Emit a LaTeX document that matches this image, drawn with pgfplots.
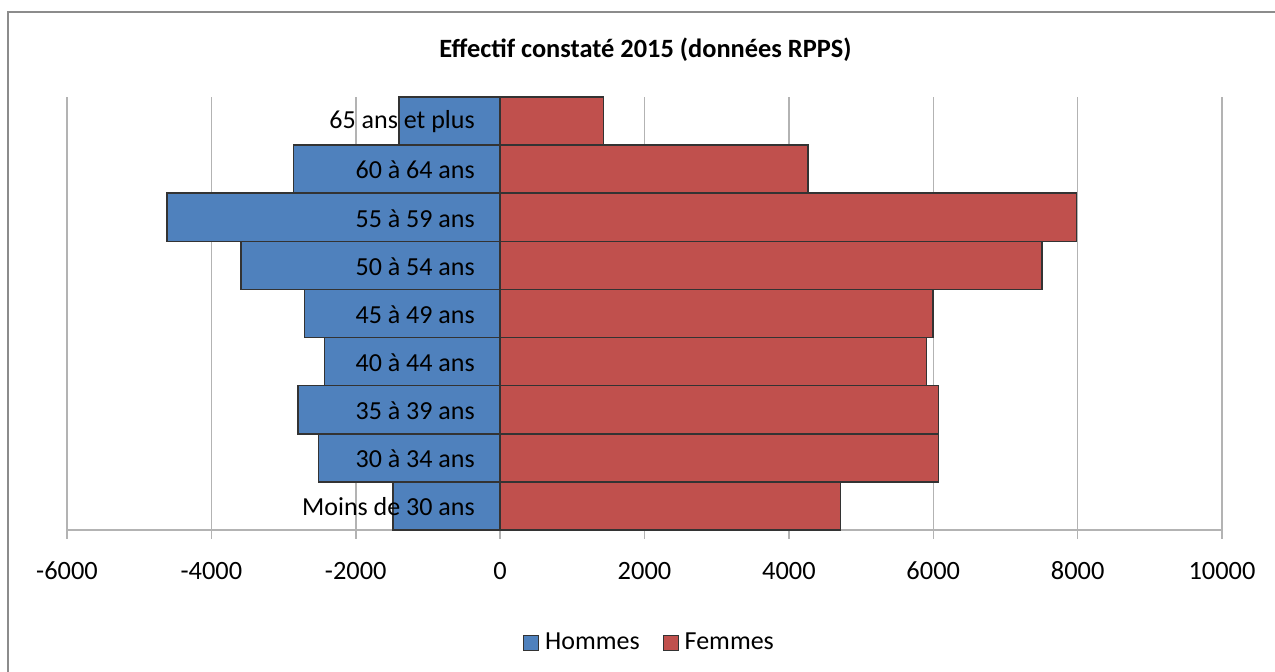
\documentclass[border=0pt]{standalone}
\usepackage{pgfplots}
\pgfplotsset{compat=1.18}
\usepackage{fontspec}
\setmainfont{Carlito}
\definecolor{hblue}{HTML}{4F81BD}
\definecolor{fred}{HTML}{C0504D}
\definecolor{gridc}{HTML}{B3B3B3}
\definecolor{framec}{HTML}{8C8C8C}
\begin{document}
\begin{tikzpicture}
\useasboundingbox (0,0) rectangle (637.5pt,336pt);
\draw[framec, line width=1pt] (4pt,-5pt) -- (4pt,330pt) -- (645pt,330pt);
\node[font=\bfseries\fontsize{13.2}{16}\selectfont] at (322.75pt,311pt) {Effectif constaté 2015 (données RPPS)};
\begin{axis}[
  at={(33.5pt,71pt)}, anchor=south west,
  scale only axis,
  width=577.5pt, height=216.5pt,
  xmin=-6000, xmax=10000,
  ymin=-0.5, ymax=8.5,
  xtick={-6000,-4000,...,10000},
  scaled x ticks=false,
  /pgf/number format/assume math mode=true,
  /pgf/number format/1000 sep={},
  xmajorgrids,
  grid style={gridc, line width=0.75pt},
  axis x line*=bottom, axis y line*=left,
  x axis line style={draw=gridc, line width=0.75pt, -},
  y axis line style={draw=none},
  xtick style={draw=gridc, line width=0.75pt},
  xtick pos=bottom,
  tick align=outside,
  major tick length=4.5pt,
  ytick=\empty,
  xticklabel style={font=\fontsize{13.2}{15}\selectfont, anchor=north, text height=1.6ex, text depth=0pt, yshift=-9pt},
  xbar, bar width=1, bar shift=0pt,
  clip=false,
  legend style={at={(0.5,-0.258)}, anchor=center, xshift=3pt, yshift=-0.5pt, draw=none, legend columns=2,
    font=\fontsize{13}{15}\selectfont,
    /tikz/every even column/.append style={column sep=9.5pt}},
  legend image code/.code={\draw[#1, line width=0.5pt] (0pt,-3.75pt) rectangle (7.5pt,3.75pt);},
  legend cell align=left,
]
\addplot[fill=hblue, draw=black!80, line width=0.75pt] coordinates {
  (-1486,0) (-2516,1) (-2797,2) (-2433,3) (-2710,4) (-3587,5) (-4615,6) (-2865,7) (-1402,8)};
\addlegendentry{\hspace{1pt}Hommes}
\addplot[fill=fred, draw=black!80, line width=0.75pt] coordinates {
  (4712,0) (6074,1) (6074,2) (5903,3) (5995,4) (7509,5) (7985,6) (4265,7) (1431,8)};
\addlegendentry{\hspace{1pt}Femmes}
\tikzset{cat/.style={anchor=east, inner sep=0pt, xshift=-12.5pt, yshift=-0.5pt, font=\fontsize{13}{15}\selectfont}}
\node[cat] at (axis cs:0,0) {Moins de 30 ans};
\node[cat] at (axis cs:0,1) {30 à 34 ans};
\node[cat] at (axis cs:0,2) {35 à 39 ans};
\node[cat] at (axis cs:0,3) {40 à 44 ans};
\node[cat] at (axis cs:0,4) {45 à 49 ans};
\node[cat] at (axis cs:0,5) {50 à 54 ans};
\node[cat] at (axis cs:0,6) {55 à 59 ans};
\node[cat] at (axis cs:0,7) {60 à 64 ans};
\node[cat] at (axis cs:0,8) {65 ans et plus};
\end{axis}
\end{tikzpicture}
\end{document}
